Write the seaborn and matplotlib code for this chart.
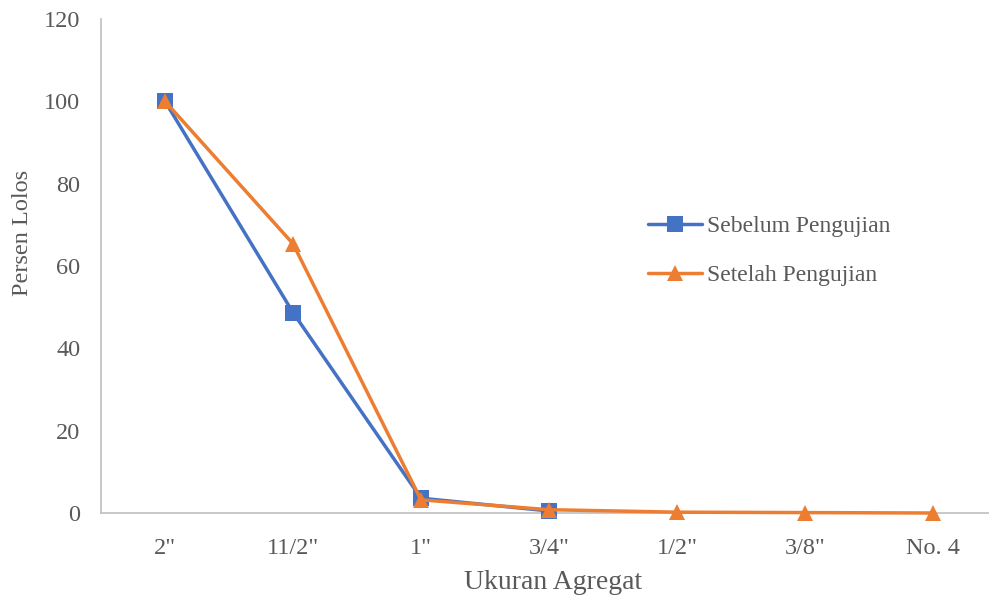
import numpy as np
import pandas as pd
import matplotlib
matplotlib.use("Agg")
import matplotlib.pyplot as plt
import seaborn as sns

# Sieve sizes and percent passing, before and after testing
sizes = ['2"', '11/2"', '1"', '3/4"', '1/2"', '3/8"', 'No. 4']
sebelum = [100.0, 48.7, 3.6, 0.5, np.nan, np.nan, np.nan]
setelah = [100.0, 65.4, 3.2, 0.8, 0.2, 0.1, 0.0]
series_names = ["Sebelum Pengujian", "Setelah Pengujian"]
y_ticks = [0, 20, 40, 60, 80, 100, 120]

sns.set_theme(style="white")
plt.rcParams["font.family"] = ["Liberation Serif", "DejaVu Serif"]

text_color = "#595959"
colors = {"Sebelum Pengujian": "#4472C4", "Setelah Pengujian": "#ED7D31"}
markers = {"Sebelum Pengujian": "s", "Setelah Pengujian": "^"}

idx = np.arange(len(sizes))
df = pd.DataFrame({
    "pos": np.concatenate([idx, idx]),
    "nilai": sebelum + setelah,
    "seri": [series_names[0]] * len(sizes) + [series_names[1]] * len(sizes),
})

fig = plt.figure(figsize=(9.89, 5.99), dpi=100)
ax = fig.add_axes([101 / 989, 86 / 599, 888 / 989, 494 / 599])

sns.lineplot(
    data=df, x="pos", y="nilai", hue="seri", style="seri",
    hue_order=series_names, style_order=series_names,
    palette=colors, markers=markers, dashes=False,
    linewidth=2.5, markersize=11, markeredgewidth=0,
    sort=False, ax=ax,
)
# markers sitting on the zero line must not be clipped;
# triangles drawn a little larger than squares
for line in ax.get_lines():
    line.set_clip_on(False)
    if line.get_marker() == "^":
        line.set_markersize(12)

ax.set_xlim(-0.5, -0.5 + 888 / 128)
ax.set_ylim(0, 120)
ax.set_yticks(y_ticks)
ax.set_xticks(idx)
ax.set_xticklabels(sizes)

ax.tick_params(axis="both", length=0, labelsize=17.5, labelcolor=text_color)
ax.tick_params(axis="y", pad=15)
ax.tick_params(axis="x", pad=18)

for side in ["top", "right"]:
    ax.spines[side].set_visible(False)
ax.spines["left"].set_color("#BFBFBF")
ax.spines["left"].set_linewidth(1.2)
ax.spines["bottom"].set_color("#BFBFBF")
ax.spines["bottom"].set_linewidth(1.2)
ax.spines["left"].set_zorder(0.5)
ax.spines["bottom"].set_zorder(0.5)
ax.grid(False)

ax.set_xlabel("Ukuran Agregat", fontsize=20, color=text_color, labelpad=8)
ax.xaxis.set_label_coords((553 - 101) / 888, -0.115)
ax.set_ylabel("Persen Lolos", fontsize=17.5, color=text_color)
ax.yaxis.set_label_coords((33 - 101) / 888, (513 - 233) / 494)

handles, labels = ax.get_legend_handles_labels()
ax.legend(
    handles, labels, loc="center left",
    bbox_to_anchor=(648 / 989, (599 - 251) / 599), bbox_transform=fig.transFigure,
    frameon=False, fontsize=17, labelcolor=text_color,
    handlelength=2.3, handletextpad=0.2, labelspacing=1.15,
    borderpad=0, borderaxespad=0,
)

fig.savefig("out.png", dpi=100)
